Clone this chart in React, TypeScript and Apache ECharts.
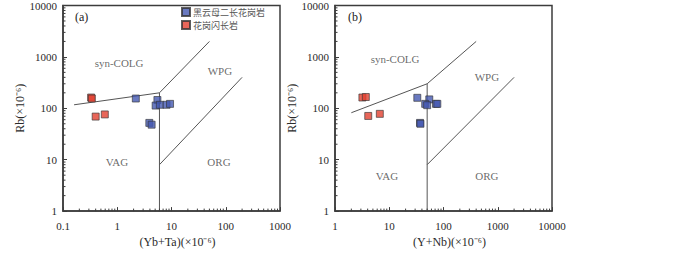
import React, { useEffect, useRef } from "react";
import * as echarts from "echarts";

// ---- data ----
const seriesNames = ["黑云母二长花岗岩", "花岗闪长岩"];
const seriesColors = ["#4458b0", "#e2402f"];

// panel (a): Rb vs Yb+Ta
const aBlueX = [2.2, 5.5, 5.1, 6.1, 8.1, 9.4, 3.9, 4.3];
const aBlueY = [155, 145, 113, 117, 117, 122, 52, 48];
const aRedX = [0.33, 0.34, 0.4, 0.59];
const aRedY = [162, 155, 69, 76];

// panel (b): Rb vs Y+Nb
const bBlueX = [32.9, 54.7, 46, 50, 72.8, 77, 36.9, 37.6];
const bBlueY = [160, 149, 122, 115, 122, 122, 52, 50];
const bRedX = [3.2, 3.7, 4.1, 6.7];
const bRedY = [162, 166, 71, 78];

// discrimination boundaries (Pearce et al., 1984)
const aBoundaries = [
  [[0.16, 117], [6, 200]],
  [[6, 1], [6, 200]],
  [[6, 200], [50, 2000]],
  [[6, 8], [200, 400]],
];
const bBoundaries = [
  [[2, 82], [50, 300]],
  [[50, 1], [50, 300]],
  [[50, 300], [400, 2000]],
  [[50, 8], [2000, 400]],
];

// field labels
const fieldNames = ["syn-COLG", "WPG", "VAG", "ORG"];
const aFieldX = [1.08, 78, 0.99, 75];
const aFieldY = [770, 520, 9.2, 9.2];
const bFieldX = [12.8, 630, 9.1, 630];
const bFieldY = [910, 405, 4.8, 4.8];

// axes
const aXTickLabels = ["0.1", "1", "10", "100", "1000"];
const bXTickLabels = ["1", "10", "100", "1000", "10000"];
const yTickLabels = ["1", "10", "100", "1000", "10000"];
const aXRange = [0.1, 1000];
const bXRange = [1, 10000];
const yRange = [1, 10000];
const aXName = "(Yb+Ta)(×10⁻⁶)";
const bXName = "(Y+Nb)(×10⁻⁶)";
const yName = "Rb(×10⁻⁶)";
const panelLetters = ["(a)", "(b)"];

const SERIF = '"Liberation Serif", "Times New Roman", serif';
const CJK = '"Noto Sans CJK SC", sans-serif';
const AXIS_COLOR = "#3c3c3c";
const TEXT_COLOR = "#2a2a2a";

function zip(xs: number[], ys: number[]) {
  return xs.map((x, i) => [x, ys[i]]);
}

function minorTicks(xr: number[], yr: number[]) {
  const out: number[][] = [];
  const k0 = Math.round(Math.log10(xr[0]));
  const k1 = Math.round(Math.log10(xr[1]));
  for (let k = k0; k < k1; k++) {
    for (let m = 2; m <= 9; m++) out.push([m * Math.pow(10, k), yr[0], 0]);
  }
  const j0 = Math.round(Math.log10(yr[0]));
  const j1 = Math.round(Math.log10(yr[1]));
  for (let j = j0; j < j1; j++) {
    for (let m = 2; m <= 9; m++) out.push([xr[0], m * Math.pow(10, j), 1]);
  }
  return out;
}

function labelFormatter(labels: string[], min: number) {
  return (v: number) => {
    const idx = Math.round(Math.log10(v) - Math.log10(min));
    return labels[idx] ?? "";
  };
}

function makeXAxis(gridIndex: number, range: number[], labels: string[], name: string) {
  return {
    type: "log",
    logBase: 10,
    gridIndex,
    min: range[0],
    max: range[1],
    name,
    nameLocation: "middle",
    nameGap: 20,
    nameTextStyle: { fontFamily: SERIF, fontSize: 12, color: TEXT_COLOR, padding: [0, 0, 0, 12] },
    axisLine: { show: true, lineStyle: { color: AXIS_COLOR, width: 1.5 } },
    axisTick: { show: true, inside: true, length: 4, lineStyle: { color: AXIS_COLOR } },
    axisLabel: {
      fontFamily: SERIF,
      fontSize: 11,
      color: TEXT_COLOR,
      margin: 9,
      formatter: labelFormatter(labels, range[0]),
    },
    splitLine: { show: false },
  };
}

function makeYAxis(gridIndex: number) {
  return {
    type: "log",
    logBase: 10,
    gridIndex,
    min: yRange[0],
    max: yRange[1],
    name: yName,
    nameLocation: "middle",
    nameGap: 34,
    nameTextStyle: { fontFamily: SERIF, fontSize: 12, color: TEXT_COLOR },
    axisLine: { show: true, lineStyle: { color: AXIS_COLOR, width: 1.5 } },
    axisTick: { show: true, inside: true, length: 4, lineStyle: { color: AXIS_COLOR } },
    axisLabel: {
      fontFamily: SERIF,
      fontSize: 11,
      color: TEXT_COLOR,
      margin: 6,
      formatter: labelFormatter(yTickLabels, yRange[0]),
    },
    splitLine: { show: false },
  };
}

function panelSeries(
  idx: number,
  blue: number[][],
  red: number[][],
  bounds: number[][][],
  fx: number[],
  fy: number[],
  xr: number[]
) {
  const list: any[] = [];
  bounds.forEach((seg) => {
    list.push({
      type: "line",
      xAxisIndex: idx,
      yAxisIndex: idx,
      data: seg,
      symbol: "none",
      silent: true,
      lineStyle: { color: "#555", width: 1 },
      z: 2,
    });
  });
  list.push({
    type: "custom",
    xAxisIndex: idx,
    yAxisIndex: idx,
    data: minorTicks(xr, yRange),
    silent: true,
    clip: false,
    renderItem: (params: any, api: any) => {
      const kind = api.value(2);
      const p = api.coord([api.value(0), api.value(1)]);
      if (kind === 0) {
        return {
          type: "line",
          shape: { x1: p[0], y1: p[1], x2: p[0], y2: p[1] - 2.5 },
          style: { stroke: AXIS_COLOR, lineWidth: 1 },
        };
      }
      return {
        type: "line",
        shape: { x1: p[0], y1: p[1], x2: p[0] + 2.5, y2: p[1] },
        style: { stroke: AXIS_COLOR, lineWidth: 1 },
      };
    },
    z: 3,
  });
  list.push({
    type: "scatter",
    xAxisIndex: idx,
    yAxisIndex: idx,
    data: fieldNames.map((n, i) => ({ name: n, value: [fx[i], fy[i]] })),
    symbolSize: 1,
    silent: true,
    itemStyle: { color: "rgba(0,0,0,0)" },
    label: {
      show: true,
      position: "inside",
      formatter: (p: any) => p.name,
      fontFamily: SERIF,
      fontSize: 11,
      color: "#444",
    },
    z: 4,
  });
  [blue, red].forEach((d, k) => {
    list.push({
      type: "scatter",
      name: seriesNames[k],
      xAxisIndex: idx,
      yAxisIndex: idx,
      data: d,
      symbol: "rect",
      symbolSize: 7,
      itemStyle: { color: seriesColors[k], borderColor: "#333", borderWidth: 0.8 },
      z: 5,
    });
  });
  return list;
}

export default function App() {
  const ref = useRef<HTMLDivElement>(null);
  useEffect(() => {
    if (!ref.current) return;
    const chart = echarts.init(ref.current, null, { renderer: "svg" });
    const gridCommon = {
      show: true,
      borderColor: AXIS_COLOR,
      borderWidth: 1.5,
      backgroundColor: "transparent",
      containLabel: false,
    };
    chart.setOption({
      animation: false,
      textStyle: { fontFamily: SERIF },
      grid: [
        { ...gridCommon, left: 63, top: 4, width: 217, height: 216 },
        { ...gridCommon, left: 335, top: 4, width: 217, height: 216 },
      ],
      xAxis: [
        makeXAxis(0, aXRange, aXTickLabels, aXName),
        makeXAxis(1, bXRange, bXTickLabels, bXName),
      ],
      yAxis: [makeYAxis(0), makeYAxis(1)],
      legend: {
        data: seriesNames,
        orient: "vertical",
        left: 181,
        top: 7,
        padding: 0,
        itemWidth: 8,
        itemHeight: 8,
        itemGap: 3,
        icon: "rect",
        selectedMode: false,
        textStyle: {
          fontFamily: CJK,
          fontSize: 9,
          lineHeight: 8,
          color: "#555",
          padding: [0, 0, 0, -2],
        },
      },
      graphic: [
        {
          type: "text",
          left: 75,
          top: 11,
          style: { text: panelLetters[0], font: `12px ${SERIF}`, fill: "#222" },
        },
        {
          type: "text",
          left: 348,
          top: 11,
          style: { text: panelLetters[1], font: `12px ${SERIF}`, fill: "#222" },
        },
      ],
      series: [
        ...panelSeries(0, zip(aBlueX, aBlueY), zip(aRedX, aRedY), aBoundaries, aFieldX, aFieldY, aXRange),
        ...panelSeries(1, zip(bBlueX, bBlueY), zip(bRedX, bRedY), bBoundaries, bFieldX, bFieldY, bXRange),
      ],
    });
    return () => chart.dispose();
  }, []);
  return (
    <div
      ref={ref}
      style={{ position: "fixed", left: 0, top: 0, width: 700, height: 253, background: "#fff" }}
    />
  );
}
